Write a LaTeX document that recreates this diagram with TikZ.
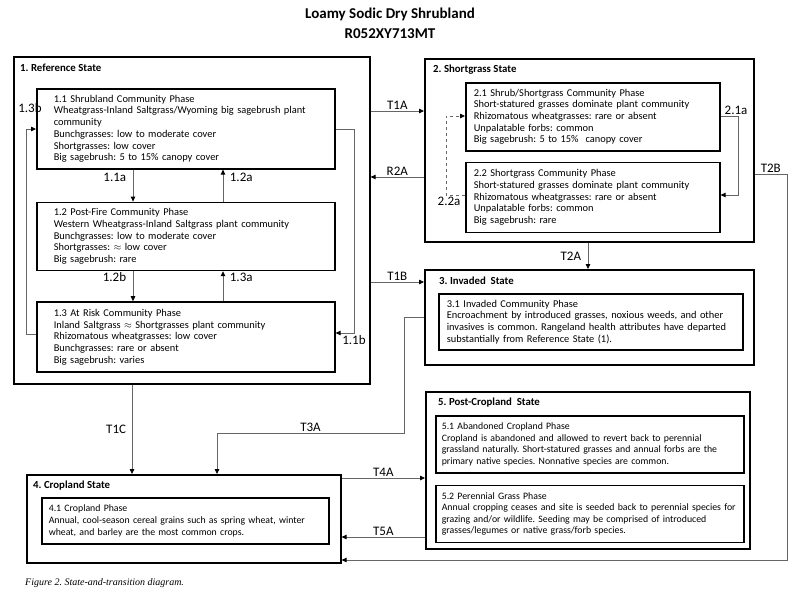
\documentclass[tikz,border=0pt]{standalone}
\usepackage{fontspec}
\setmainfont{Carlito}
\newfontfamily\capfont{Liberation Serif}
\frenchspacing
\usetikzlibrary{
  positioning,
  arrows.meta,
}
\tikzset{
  >={Triangle[length=5pt,width=4.5pt,color=black]},
  state/.style={
    rectangle,
    draw,
    line width=1.6pt,
    anchor=north west,
    inner sep=0pt,
  },
  phase/.style={
    rectangle,
    draw,
    line width=1.6pt,
    align=left,
    inner xsep=8pt,
    inner ysep=2pt,
    font=\fontsize{10.4}{11.7}\selectfont,
  },
  smallphase/.style={
    phase,
    font=\fontsize{9.8}{11.6}\selectfont,
  },
  statetitle/.style={
    inner sep=0pt,
    font=\bfseries\fontsize{10.8}{12}\selectfont,
  },
  trans/.style={
    ->,
    draw=black!60,
    line width=0.8pt,
  },
  lbl/.style={
    inner sep=1.5pt,
    font=\fontsize{13}{14}\selectfont,
  },
}

\begin{document}
\begin{tikzpicture}[x=1pt, y=-1pt]
  \useasboundingbox (0,0) rectangle (800,600);

  \node[font=\bfseries\fontsize{15}{20}\selectfont, align=center] (title) at (390,23)
    {Loamy Sodic Dry Shrubland\\R052XY713MT};

  % states
  \node[state, minimum width=356pt, minimum height=327pt] (s1) at (13,56) {};
  \node[state, minimum width=329pt, minimum height=183pt] (s2) at (424,58) {};
  \node[state, minimum width=329pt, minimum height=95pt]  (s3) at (424,269) {};
  \node[state, minimum width=314pt, minimum height=88pt]  (s4) at (26,474) {};
  \node[state, minimum width=324pt, minimum height=157pt] (s5) at (425,391) {};

  \node[statetitle, below right=8pt and 7pt of s1.north west]  (t1) {1. Reference State};
  \node[statetitle, below right=7pt and 9pt of s2.north west]  (t2) {2. Shortgrass State};
  \node[statetitle, below right=8pt and 15pt of s3.north west] (t3) {3. Invaded\ \ State};
  \node[statetitle, below right=7pt and 7pt of s4.north west]  (t4) {4. Cropland State};
  \node[statetitle, below right=7pt and 13pt of s5.north west] (t5) {5. Post-Cropland\ \ State};

  % community phases
  \node[phase, inner xsep=17pt, text width=264pt, minimum height=80pt,
        below right=32pt and 23pt of s1.north west] (p11)
    {1.1 Shrubland Community Phase\\
     Wheatgrass-Inland Saltgrass/Wyoming big sagebrush plant\\
     community\\
     Bunchgrasses: low to moderate cover\\
     Shortgrasses: low cover\\
     Big sagebrush: 5 to 15\% canopy cover};
  \node[phase, inner xsep=17pt, text width=264pt, minimum height=68pt,
        below=32pt of p11] (p12)
    {1.2 Post-Fire Community Phase\\
     Western Wheatgrass-Inland Saltgrass plant community\\
     Bunchgrasses: low to moderate cover\\
     Shortgrasses: $\approx$ low cover\\
     Big sagebrush: rare};
  \node[phase, inner xsep=17pt, text width=264pt, minimum height=70pt,
        below=30pt of p12] (p13)
    {1.3 At Risk Community Phase\\
     Inland Saltgrass $\approx$ Shortgrasses plant community\\
     Rhizomatous wheatgrasses: low cover\\
     Bunchgrasses: rare or absent\\
     Big sagebrush: varies};

  \node[phase, text width=238pt, minimum height=68pt,
        below right=24pt and 41pt of s2.north west] (p21)
    {2.1 Shrub/Shortgrass Community Phase\\
     Short-statured grasses dominate plant community\\
     Rhizomatous wheatgrasses: rare or absent\\
     Unpalatable forbs: common\\
     Big sagebrush: 5 to 15\%\ \ canopy cover};
  \node[phase, text width=238pt, minimum height=70pt,
        below=10pt of p21] (p22)
    {2.2 Shortgrass Community Phase\\
     Short-statured grasses dominate plant community\\
     Rhizomatous wheatgrasses: rare or absent\\
     Unpalatable forbs: common\\
     Big sagebrush: rare};

  \node[phase, text width=288pt, minimum height=56pt,
        below right=24pt and 14pt of s3.north west] (p31)
    {3.1 Invaded Community Phase\\
     Encroachment by introduced grasses, noxious weeds, and other\\
     invasives is common. Rangeland health attributes have departed\\
     substantially from Reference State (1).};

  \node[smallphase, inner xsep=7pt, text width=273pt, minimum height=46pt,
        below right=23pt and 15pt of s4.north west] (p41)
    {4.1 Cropland Phase\\
     Annual, cool-season cereal grains such as spring wheat, winter\\
     wheat, and barley are the most common crops.};

  \node[smallphase, inner xsep=6pt, text width=296pt, minimum height=57pt,
        below right=24pt and 10pt of s5.north west] (p51)
    {5.1 Abandoned Cropland Phase\\
     Cropland is abandoned and allowed to revert back to perennial\\
     grassland naturally. Short-statured grasses and annual forbs are the\\
     primary native species. Nonnative species are common.};
  \node[smallphase, inner xsep=6pt, text width=296pt, minimum height=57pt,
        below=11pt of p51] (p52)
    {5.2 Perennial Grass Phase\\
     Annual cropping ceases and site is seeded back to perennial species for\\
     grazing and/or wildlife. Seeding may be comprised of introduced\\
     grasses/legumes or native grass/forb species.};

  % community pathways
  \draw[trans] (p11.south -| 133,0) -- node[lbl, left=5pt, pos=.25] {1.1a} (p12.north -| 133,0);
  \draw[trans] (p12.north -| 223,0) -- node[lbl, right=5pt, pos=.75] {1.2a} (p11.south -| 223,0);
  \draw[trans] (p12.south -| 133,0) -- node[lbl, left=5pt, pos=.2] {1.2b} (p13.north -| 133,0);
  \draw[trans] (p13.north -| 223,0) -- node[lbl, right=5pt, pos=.8] {1.3a} (p12.south -| 223,0);
  \draw[trans] (p13.west |- 0,334) -| (26,129) node[lbl, above=15pt, xshift=4pt] {1.3b}
    -- (p11.west |- 0,129);
  \draw[trans] (p11.east |- 0,129) -| (354,333) node[lbl, below=1pt] {1.1b}
    -- (p13.east |- 0,333);
  \draw[trans] (p21.east |- 0,116) -| node[lbl, pos=.5, above, xshift=-2pt] {2.1a} (738,195)
    -- (p22.east |- 0,195);
  \draw[trans, dashed] (p22.west |- 0,195) -| node[lbl, pos=.5, below, xshift=3pt] {2.2a} (446,116)
    -- (p21.west |- 0,116);

  % transitions
  \draw[trans] (s1.east |- 0,111) -- node[lbl, above] {T1A} (s2.west |- 0,111);
  \draw[trans] (s2.west |- 0,177) -- node[lbl, above] {R2A} (s1.east |- 0,177);
  \draw[trans] (s1.east |- 0,282) -- node[lbl, above] {T1B} (s3.west |- 0,282);
  \draw[trans] (s2.south -| 588,0) -- node[lbl, left=5pt] {T2A} (s3.north -| 588,0);
  \draw[trans] (s2.east |- 0,174) -- node[lbl, above] {T2B} (787,174)
    |- (s4.east |- 0,560);
  \draw[trans] (s1.south -| 132,0) -- node[lbl, left=4pt] {T1C} (s4.north -| 132,0);
  \draw[trans] (s3.west |- 0,317) -| (404,433) -- node[lbl, above] {T3A} (217,433)
    -- (s4.north -| 217,0);
  \draw[trans] (s4.east |- 0,478) -- node[lbl, above] {T4A} (s5.west |- 0,478);
  \draw[trans] (s5.west |- 0,537) -- node[lbl, above] {T5A} (s4.east |- 0,537);

  \node[anchor=west, inner sep=0pt, font=\capfont\itshape\fontsize{10}{11}\selectfont]
    (caption) at (25,583) {Figure 2. State-and-transition diagram.};
\end{tikzpicture}
\end{document}
